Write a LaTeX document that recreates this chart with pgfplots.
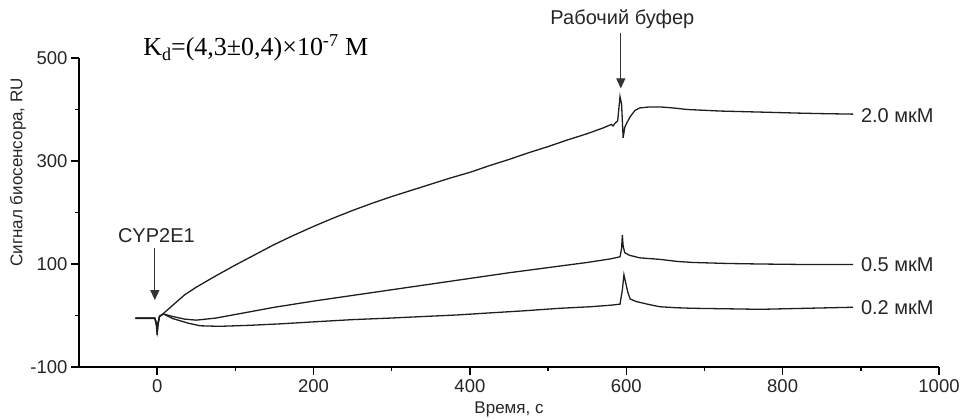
\documentclass[border=0pt]{standalone}
\usepackage{fontspec}
\setmainfont{Liberation Sans}
\newfontfamily\serif{Liberation Serif}
\usepackage{pgfplots}
\pgfplotsset{compat=1.18}
\usetikzlibrary{arrows.meta}
\definecolor{trace}{HTML}{1E1E1E}

\pgfplotstableread{
t v
-28 -5
-10 -5
-3 -5
-1 -20
0 -38
1 -20
3 -2
8 4
20 20
35 40
50 55
75 77
100 98
125 118
150 138
175 156
200 173
225 189
250 204
275 218
300 231
325 243
350 255
375 267
400 278
425 291
450 303
475 316
500 328
525 341
550 353
570 364
581 371
583 368
586 374
589 378
592 425
594 410
596 345
598 365
600 372
605 386
611 398
617 403
630 405
643 405
660 403
678 400
720 397
771 395
820 393
850 392
890 391
}\highdata

\pgfplotstableread{
t v
-28 -5
-3 -5
-1 -15
0 -30
1 -15
3 -1
8 3
20 -2
35 -7
50 -9
75 -5
100 2
125 9
150 16
175 22
200 28
250 39
300 50
350 61
400 72
450 83
500 93
550 103
580 110
592 114
594 130
595 156
596 135
598 122
604 117
617 112
643 109
665 105
685 103
730 101
771 100
830 99
890 99
}\middata

\pgfplotstableread{
t v
-28 -6
-3 -6
-1 -15
0 -28
1 -15
3 -2
8 3
20 -6
40 -15
55 -20
80 -21
119 -19
160 -16
204 -12
250 -8
298 -5
340 -2
383 1
425 5
468 9
515 14
554 17
580 20
592 22
595 50
597 79
599 65
602 45
605 32
613 27
630 21
643 17
665 15
685 14
730 13
771 12
830 14
890 16
}\lowdata

\begin{document}
\begin{tikzpicture}
\useasboundingbox (-79pt,-51pt) rectangle (881pt,367pt);
\begin{axis}[
  scale only axis,
  width=860pt, height=309pt,
  xmin=-100, xmax=1000, ymin=-100, ymax=500,
  axis lines=left,
  axis line style={line width=1.6pt, -},
  clip=false,
  xtick={0,200,400,600,800,1000},
  ytick={-100,100,300,500},
  minor xtick={100,300,500,700,900},
  minor ytick={0,200,400},
  tick align=outside,
  major tick length=8pt, minor tick length=4pt,
  every tick/.style={black, line width=1.4pt},
  /pgf/number format/assume math mode=true,
  /pgf/number format/1000 sep={},
  tick label style={font=\fontsize{18.5}{22}\selectfont, color=black!85},
  xticklabel style={yshift=-1pt},
  label style={font=\fontsize{17}{20}\selectfont, color=black!85},
  xlabel={Время, с},
  ylabel={Сигнал биосенсора, RU},
  xlabel style={at={(axis description cs:0.5,-0.136)}, anchor=center},
  ylabel style={at={(axis description cs:-0.071,0.63)}, anchor=center, rotate=0},
]
\addplot[trace, line width=1.3pt] table[x=t,y=v] {\lowdata};
\addplot[trace, line width=1.3pt] table[x=t,y=v] {\middata};
\addplot[trace, line width=1.3pt] table[x=t,y=v] {\highdata};

\node[anchor=west, font=\fontsize{20}{24}\selectfont, text=black!85, inner sep=0pt] at (axis cs:900,389) {2.0 мкМ};
\node[anchor=west, font=\fontsize{20}{24}\selectfont, text=black!85, inner sep=0pt] at (axis cs:900,98) {0.5 мкМ};
\node[anchor=west, font=\fontsize{20}{24}\selectfont, text=black!85, inner sep=0pt] at (axis cs:900,16) {0.2 мкМ};

\node[font=\fontsize{20}{24}\selectfont, text=black!85] at (axis cs:-1,155) {CYP2E1};
\draw[black!80, line width=1.2pt, -{Triangle[length=10pt,width=9pt]}] (axis cs:-3,131) -- (axis cs:-3,30);

\node[font=\fontsize{20}{24}\selectfont, text=black!85] at (axis cs:595,575) {Рабочий буфер};
\draw[black!80, line width=1.2pt, -{Triangle[length=10pt,width=9pt]}] (axis cs:593,548) -- (axis cs:593,441);

\node[anchor=west, inner sep=0pt, font=\serif\fontsize{26}{30}\selectfont] at (axis cs:-18,520) {K\raisebox{-0.45ex}{\fontsize{18}{20}\selectfont d}=(4,3±0,4)×10\textsuperscript{-7} M};
\end{axis}
\end{tikzpicture}
\end{document}
